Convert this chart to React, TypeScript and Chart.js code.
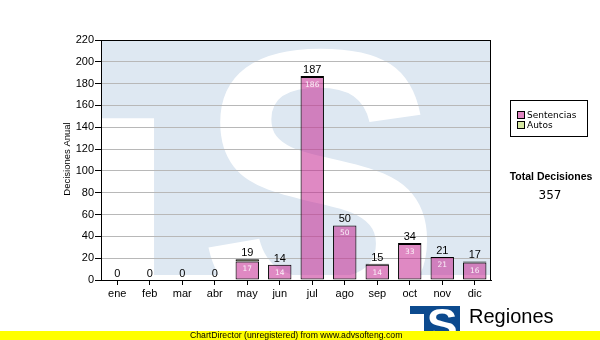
import React, { useEffect, useRef } from 'react';
import { Chart, registerables } from 'chart.js';

Chart.register(...registerables);

// ---- data ----
const categories = ['ene', 'feb', 'mar', 'abr', 'may', 'jun', 'jul', 'ago', 'sep', 'oct', 'nov', 'dic'];
const sentencias = [0, 0, 0, 0, 17, 14, 186, 50, 14, 33, 21, 16];
const autos = [0, 0, 0, 0, 2, 0, 1, 0, 1, 1, 0, 1];
const seriesNames = ['Sentencias', 'Autos'];
const yMax = 220;
const yStep = 20;
const yTitle = 'Decisiones Anual';
const totalTitle = 'Total Decisiones';
const footerText = 'ChartDirector (unregistered) from www.advsofteng.com';
const logoTitle = 'Regiones';
const logoSubtitle = 'Tribunal Supremo de Justicia';

// ---- styles ----
const PINK = 'rgba(196, 40, 145, 0.55)';
const PINK_SOLID = '#e085c2';
const GREEN = 'rgba(190, 222, 110, 0.7)';
const GREEN_SOLID = '#d6e9a2';
const WATER_BLUE = '#dee8f2';
const LOGO_BLUE = '#0c4a8e';
const SANS = '"Liberation Sans", Arial, sans-serif';
const VERD = '"DejaVu Sans", Verdana, sans-serif';

const totals = sentencias.map((v, i) => v + autos[i]);
const grandTotal = totals.reduce((a, b) => a + b, 0);

function drawGlyphInBox(ctx: CanvasRenderingContext2D, ch: string, x: number, y: number, w: number, h: number) {
  ctx.save();
  ctx.font = `bold 200px ${SANS}`;
  ctx.textAlign = 'left';
  ctx.textBaseline = 'alphabetic';
  const m = ctx.measureText(ch);
  const gw = m.actualBoundingBoxLeft + m.actualBoundingBoxRight;
  const gh = m.actualBoundingBoxAscent + m.actualBoundingBoxDescent;
  ctx.translate(x, y);
  ctx.scale(w / gw, h / gh);
  ctx.fillText(ch, m.actualBoundingBoxLeft, m.actualBoundingBoxAscent);
  ctx.restore();
}

const watermarkPlugin = {
  id: 'watermark',
  beforeDraw(chart: any) {
    const { ctx, chartArea: a } = chart;
    ctx.save();
    ctx.fillStyle = '#ffffff';
    ctx.fillRect(0, 0, chart.width, chart.height);
    const w = a.right - a.left;
    const h = a.bottom - 5 - a.top;
    ctx.beginPath();
    ctx.rect(a.left, a.top, w, h);
    ctx.clip();
    ctx.fillStyle = WATER_BLUE;
    ctx.fillRect(a.left, a.top, w, h);
    ctx.fillStyle = '#ffffff';
    ctx.fillRect(a.left, a.top + h * 0.333, w * 0.136, h);
    drawGlyphInBox(ctx, 'S', a.left + w * 0.272, a.top + 8, w * 0.566, 272);
    ctx.restore();
  },
};

const overlayPlugin = {
  id: 'overlay',
  afterDraw(chart: any) {
    const { ctx, chartArea: a } = chart;
    const xs = chart.scales.x;
    const ys = chart.scales.y;
    ctx.save();

    // frame top & right
    ctx.strokeStyle = '#000';
    ctx.lineWidth = 1;
    ctx.beginPath();
    ctx.moveTo(a.left, a.top + 0.5);
    ctx.lineTo(a.right, a.top + 0.5);
    ctx.moveTo(a.right - 0.5, a.top);
    ctx.lineTo(a.right - 0.5, a.bottom);
    ctx.stroke();

    // y title
    ctx.save();
    ctx.translate(67, (a.top + a.bottom) / 2 - 1);
    ctx.rotate(-Math.PI / 2);
    ctx.font = `9.5px ${SANS}`;
    ctx.fillStyle = '#000';
    ctx.textAlign = 'center';
    ctx.textBaseline = 'middle';
    ctx.fillText(yTitle, 0, 0);
    ctx.restore();

    // value labels
    categories.forEach((_, i) => {
      const x = xs.getPixelForValue(i);
      ctx.font = `11px ${SANS}`;
      ctx.fillStyle = '#000';
      ctx.textAlign = 'center';
      ctx.textBaseline = 'alphabetic';
      ctx.fillText(String(totals[i]), x, ys.getPixelForValue(totals[i]) - 3);
      if (sentencias[i] > 0) {
        ctx.font = `7.5px ${VERD}`;
        ctx.fillStyle = '#fbf0f8';
        ctx.fillText(String(sentencias[i]), x, ys.getPixelForValue(sentencias[i]) + 10);
      }
    });

    // legend
    const lx = 510, ly = 100;
    ctx.fillStyle = '#fff';
    ctx.fillRect(lx, ly, 77, 36);
    ctx.strokeStyle = '#000';
    ctx.strokeRect(lx + 0.5, ly + 0.5, 77, 36);
    const sw = [PINK_SOLID, GREEN_SOLID];
    seriesNames.forEach((name, k) => {
      const sy = ly + 11 + k * 10;
      ctx.fillStyle = sw[k];
      ctx.fillRect(lx + 7, sy, 8, 8);
      ctx.strokeStyle = '#000';
      ctx.strokeRect(lx + 7.5, sy + 0.5, 7, 7);
      ctx.fillStyle = '#000';
      ctx.font = `9px ${VERD}`;
      ctx.textAlign = 'left';
      ctx.textBaseline = 'middle';
      ctx.fillText(name, lx + 17, sy + 4.5);
    });

    // total
    ctx.textAlign = 'center';
    ctx.textBaseline = 'middle';
    ctx.fillStyle = '#000';
    ctx.font = `bold 10.5px ${SANS}`;
    ctx.fillText(totalTitle, 551, 177);
    ctx.font = `12px ${VERD}`;
    ctx.fillText(String(grandTotal), 550, 196);

    // logo
    ctx.save();
    ctx.beginPath();
    ctx.rect(410, 306, 50, 25);
    ctx.clip();
    ctx.fillStyle = LOGO_BLUE;
    ctx.fillRect(410, 306, 50, 25);
    ctx.fillStyle = '#fff';
    ctx.fillRect(410, 314, 14, 20);
    drawGlyphInBox(ctx, 'S', 428, 308, 28, 32);
    ctx.restore();

    ctx.fillStyle = '#000';
    ctx.textAlign = 'left';
    ctx.textBaseline = 'alphabetic';
    ctx.font = `20px ${SANS}`;
    ctx.fillText(logoTitle, 469, 323);
    ctx.font = `11px ${SANS}`;
    ctx.fillText(logoSubtitle, 469, 339);

    // footer band
    ctx.fillStyle = '#ffff00';
    ctx.fillRect(0, 331, chart.width, 9);
    ctx.fillStyle = '#000';
    ctx.font = `8.7px ${SANS}`;
    ctx.textBaseline = 'middle';
    ctx.fillText(footerText, 190, 335.5);

    ctx.restore();
  },
};

export default function App() {
  const ref = useRef<HTMLCanvasElement | null>(null);

  useEffect(() => {
    document.body.style.margin = '0';
    const canvas = ref.current;
    if (!canvas) return;
    const chart = new Chart(canvas, {
      type: 'bar',
      data: {
        labels: categories,
        datasets: [
          {
            label: seriesNames[0],
            data: sentencias.map((v) => (v > 0 ? v : null)),
            backgroundColor: PINK,
            borderColor: '#000',
            borderWidth: 1,
            borderSkipped: false,
            barPercentage: 0.72,
            categoryPercentage: 1,
          },
          {
            label: seriesNames[1],
            data: autos.map((v) => (v > 0 ? v : null)),
            backgroundColor: GREEN,
            borderColor: '#000',
            borderWidth: 1,
            borderSkipped: false,
            barPercentage: 0.72,
            categoryPercentage: 1,
          },
        ],
      },
      options: {
        animation: false,
        responsive: false,
        devicePixelRatio: 1,
        layout: { padding: { left: 0, top: 40, right: 109, bottom: 40 } },
        plugins: {
          legend: { display: false },
          tooltip: { enabled: false },
          title: { display: false },
        },
        scales: {
          x: {
            stacked: true,
            offset: true,
            grid: { drawOnChartArea: false, offset: false, tickLength: 5, tickColor: '#000' },
            border: { color: '#000', width: 1 },
            ticks: { color: '#000', font: { family: SANS, size: 11 }, padding: 2, maxRotation: 0, autoSkip: false },
            afterFit: (s: any) => { s.height = 20; },
          },
          y: {
            stacked: true,
            min: 0,
            max: yMax,
            ticks: { stepSize: yStep, color: '#000', font: { family: SANS, size: 11 }, padding: 1 },
            grid: { color: '#b8b8b8', tickColor: '#000', tickLength: 6 },
            border: { color: '#000', width: 1 },
            afterFit: (s: any) => { s.width = 101; },
          },
        },
      },
      plugins: [watermarkPlugin, overlayPlugin],
    } as any);
    return () => chart.destroy();
  }, []);

  return (
    <div style={{ position: 'absolute', left: 0, top: 0, width: 600, height: 340 }}>
      <canvas ref={ref} width={600} height={340} style={{ display: 'block', width: 600, height: 340 }} />
    </div>
  );
}
